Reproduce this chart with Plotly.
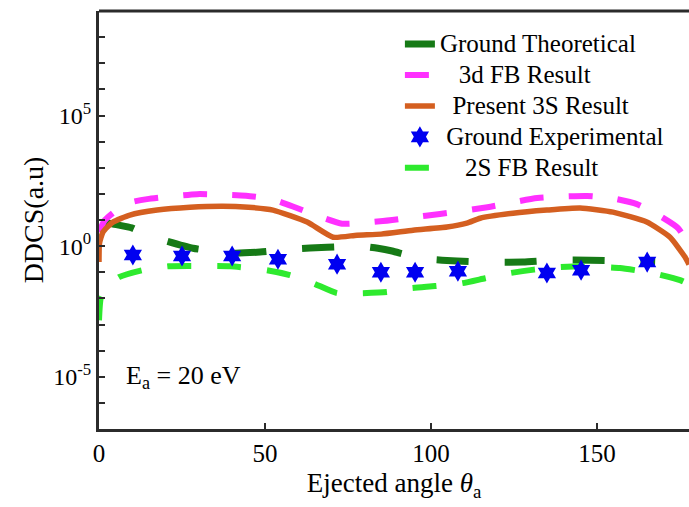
import plotly.graph_objects as go

# ---- data ----
theta_present = [0, 0.15, 1.2, 4.2, 9.3, 17.5, 27.4, 37.3, 45, 52.4, 62.7, 70.5, 77.7, 85, 94.6,
                 104.8, 110.8, 114.8, 124.7, 134.9, 144.9, 154.8, 165, 172, 176.5, 177.7]
ddcs_present = [0.245, 1.29, 3.47, 8.32, 15.5, 24.0, 30.9, 33.9, 30.9, 24.0, 8.32, 2.19, 2.63, 2.88, 4.07,
                5.37, 7.59, 11.7, 18.2, 24.0, 28.8, 20.0, 8.32, 2.19, 0.380, 0.200]

theta_3d = [0, 1.8, 8, 14.5, 29.5, 44.3, 52, 59, 66, 73.2, 85.5, 88.3, 94, 102.7, 117, 132,
            147, 155, 162, 169, 174.4, 177.7]
ddcs_3d = [3.47, 10.0, 41.7, 63.1, 97.7, 85.1, 63.1, 30.9, 14.1, 7.24, 9.12, 10.0, 12.6, 17.0, 30.9, 69.2,
           83.2, 66.1, 40.7, 14.1, 4.90, 1.10]

theta_ground_th = [1.2, 4, 9.9, 14, 19.3, 28.3, 40.4, 48.5, 58.4, 68.7, 78.6, 84, 88.3, 93, 98.8,
                   107.8, 117.8, 127.7, 138, 147.9, 157.8, 167.5]
ddcs_ground_th = [8.9, 7.1, 5.0, 2.8, 1.7, 0.83, 0.54, 0.59, 0.78, 0.91, 1.0, 0.83, 0.65, 0.45, 0.32,
                  0.27, 0.245, 0.245, 0.29, 0.29, 0.27, 0.245]

theta_2s = [0, 0.6, 3, 6, 13, 21, 30, 39.5, 50.6, 57.5, 64.5, 71.7, 79.2, 86.7, 93.7, 101.2, 109.3,
            116.3, 123.8, 131, 138.9, 145.8, 156.9, 163, 168.1, 175, 177.7]
ddcs_2s = [0.00145, 0.0112, 0.0316, 0.0646, 0.120, 0.170, 0.174, 0.170, 0.120, 0.0776, 0.038, 0.0158,
           0.0158, 0.0174, 0.0245, 0.0295, 0.038, 0.0589, 0.0933, 0.126, 0.158, 0.170, 0.145, 0.112,
           0.0851, 0.0501, 0.0347]

theta_exp = [10.2, 25.0, 40.1, 53.9, 71.7, 84.9, 95.2, 108.1, 134.9, 145.2, 165.1]
ddcs_exp = [0.457, 0.417, 0.417, 0.316, 0.204, 0.100, 0.100, 0.110, 0.0933, 0.120, 0.245]

x_ticks = [0, 50, 100, 150]
y_tick_vals = [1e-7, 1e-6, 1e-5, 1e-4, 1e-3, 1e-2, 1e-1, 1e0, 1e1, 1e2, 1e3, 1e4, 1e5, 1e6, 1e7, 1e8, 1e9]
y_tick_text = ["", "", "10<sup>-5</sup>", "", "", "", "", "10<sup>0</sup>", "", "", "", "",
               "10<sup>5</sup>", "", "", "", ""]

FONT = "Liberation Serif"
AX = "#2b2b2b"


def leg(label, indent=0):
    return '<span style="font-size:25px">' + "\u00a0" * indent + label + "</span>"


fig = go.Figure()
fig.add_trace(go.Scatter(x=theta_ground_th, y=ddcs_ground_th, mode="lines",
                         name=leg("Ground Theoretical"), legendrank=1,
                         line=dict(color="#167a16", width=7, dash="32px,36px",
                                   shape="spline", smoothing=0.5)))
fig.add_trace(go.Scatter(x=theta_3d, y=ddcs_3d, mode="lines",
                         name=leg("3d FB Result", 3), legendrank=2,
                         line=dict(color="#ff30ff", width=6, dash="24px,25px",
                                   shape="spline", smoothing=0.5)))
fig.add_trace(go.Scatter(x=theta_present, y=ddcs_present, mode="lines",
                         name=leg("Present 3S Result", 2), legendrank=3,
                         line=dict(color="#d45f20", width=5.5, shape="spline", smoothing=0.5)))
fig.add_trace(go.Scatter(x=theta_2s, y=ddcs_2s, mode="lines",
                         name=leg("2S FB Result", 4), legendrank=5,
                         line=dict(color="#2eea2e", width=6, dash="24px,26px",
                                   shape="spline", smoothing=0.5)))
fig.add_trace(go.Scatter(x=theta_exp, y=ddcs_exp, mode="markers",
                         name=leg("Ground Experimental", 1), legendrank=4,
                         marker=dict(symbol="hexagram", size=16, color="#0000f0",
                                     line=dict(width=0))))

fig.update_layout(
    width=689, height=507,
    margin=dict(l=99, r=0, t=11, b=78),
    paper_bgcolor="white", plot_bgcolor="white",
    font=dict(family=FONT, size=24, color="black"),
    showlegend=True,
    legend=dict(x=0.51, y=0.97, xanchor="left", yanchor="top",
                bgcolor="rgba(0,0,0,0)", font=dict(family=FONT, size=21.5),
                itemwidth=30),
    xaxis=dict(range=[0, 177.7], tickvals=x_ticks, ticks="inside", ticklen=6, tickwidth=2,
               tickcolor=AX, showline=True, linewidth=3, linecolor=AX, showgrid=False,
               zeroline=False, tickfont=dict(family=FONT, size=25),
               title=dict(text="Ejected angle <i>θ</i><sub>a</sub>", font=dict(family=FONT, size=27),
                          standoff=8)),
    yaxis=dict(type="log", range=[-7, 9], tickvals=y_tick_vals, ticktext=y_tick_text,
               ticks="inside", ticklen=6, tickwidth=2, tickcolor=AX, showline=True,
               linewidth=3, linecolor=AX, showgrid=False, zeroline=False,
               tickfont=dict(family=FONT, size=24),
               title=dict(text="DDCS(a.u)", font=dict(family=FONT, size=28), standoff=2)),
    shapes=[dict(type="line", xref="paper", yref="paper", x0=0, x1=1, y0=1, y1=1,
                 line=dict(color=AX, width=3))],
    annotations=[dict(x=25.3, y=-5, xref="x", yref="y", text="E<sub>a</sub> = 20 eV",
                      showarrow=False, font=dict(family=FONT, size=26, color="black"))],
)

fig.write_html("out.html")
